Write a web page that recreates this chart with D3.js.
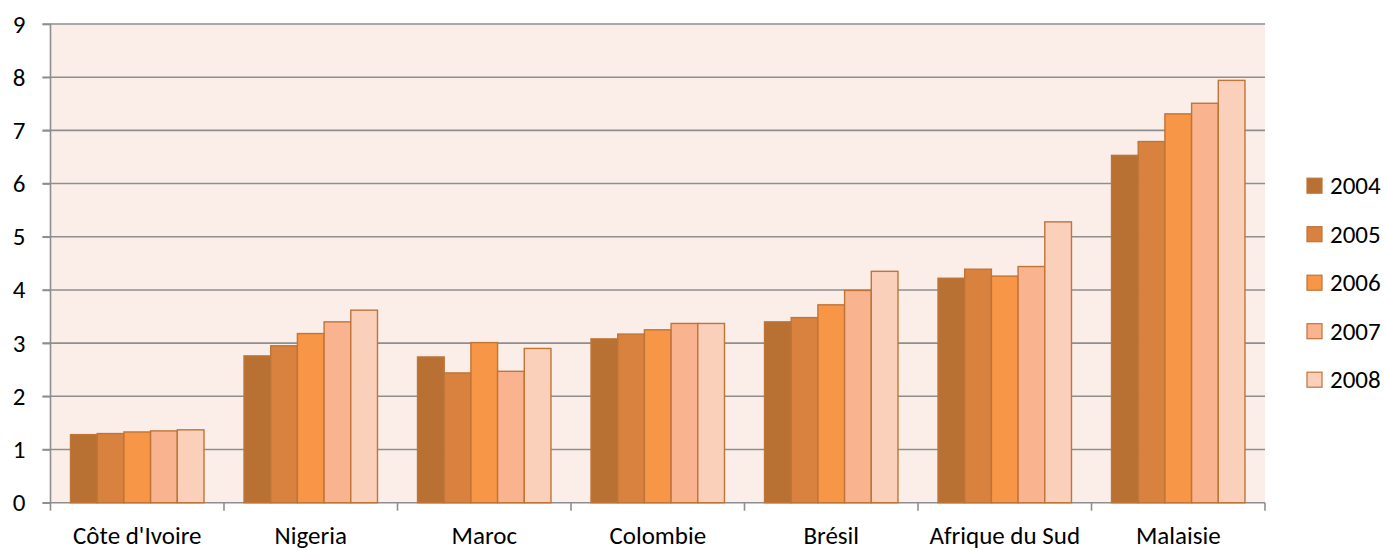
<!DOCTYPE html>
<html><head><meta charset="utf-8">
<script src="https://cdn.jsdelivr.net/npm/d3@7"></script>
<style>body{margin:0;background:#fff;}svg{display:block;font-family:Carlito,"Liberation Sans","DejaVu Sans",sans-serif;}</style>
</head><body><svg id="c" width="1385" height="550"></svg>
<script>
const categories = ["Côte d'Ivoire","Nigeria","Maroc","Colombie","Brésil","Afrique du Sud","Malaisie"];
const years = ["2004","2005","2006","2007","2008"];
const v2004 = [1.28,2.76,2.74,3.08,3.40,4.22,6.53];
const v2005 = [1.30,2.95,2.44,3.17,3.48,4.39,6.79];
const v2006 = [1.33,3.18,3.01,3.25,3.72,4.26,7.31];
const v2007 = [1.35,3.40,2.47,3.37,3.99,4.44,7.51];
const v2008 = [1.37,3.62,2.90,3.37,4.35,5.28,7.94];
const yTicks = [0,1,2,3,4,5,6,7,8,9];
const colors = ["#B87033","#D9823F","#F79646","#F9B48F","#FBD0BA"];
const series = [v2004,v2005,v2006,v2007,v2008];
const FS = 25;

const svg = d3.select("#c");
const L=50.5, R=1265, T=24, B=502.7;
const x = d3.scaleBand().domain(categories).range([L,R]).padding(0);
const x1 = d3.scaleBand().domain(years)
  .range([x.bandwidth()*0.75/6.5, x.bandwidth()*5.75/6.5]).padding(0);
const y = d3.scaleLinear().domain([0,9]).range([B,T]);

svg.append("rect").attr("x",L).attr("y",T).attr("width",R-L).attr("height",B-T).attr("fill","#FBEEE9");

// gridlines
svg.append("g").selectAll("line").data(yTicks).join("line")
  .attr("x1",L-8).attr("x2",R).attr("y1",d=>y(d)).attr("y2",d=>y(d))
  .attr("stroke","#8E8E8E").attr("stroke-width",1.6);

// bars
const g = svg.append("g");
categories.forEach((c,ci)=>{
  years.forEach((yr,si)=>{
    const val = series[si][ci];
    g.append("rect")
      .attr("x", x(c)+x1(yr)).attr("y", y(val))
      .attr("width", x1.bandwidth()).attr("height", B-y(val))
      .attr("fill", colors[si]).attr("stroke","#BF7438").attr("stroke-width",1.4);
  });
});

// axes
const yAxis = d3.axisLeft(y).tickValues(yTicks).tickSize(8).tickPadding(17);
const ya = svg.append("g").attr("transform",`translate(${L},0)`).call(yAxis);
ya.select(".domain").attr("stroke","#8E8E8E").attr("stroke-width",1.6).attr("d",`M0,${T}V${B}`);
ya.selectAll(".tick line").attr("stroke","#8E8E8E").attr("stroke-width",1.6);
ya.selectAll("text").attr("font-size",FS).attr("fill","#000").attr("font-family","Carlito,'Liberation Sans',sans-serif");

const xAxis = d3.axisBottom(x).tickSize(0).tickPadding(24);
const xa = svg.append("g").attr("transform",`translate(0,${B})`).call(xAxis);
xa.select(".domain").remove();
xa.selectAll("text").attr("font-size",FS).attr("fill","#000").attr("font-family","Carlito,'Liberation Sans',sans-serif");
const edges = categories.map(c=>x(c)).concat([R]);
xa.append("g").selectAll("line").data(edges).join("line")
  .attr("x1",d=>d).attr("x2",d=>d).attr("y1",0).attr("y2",8)
  .attr("stroke","#8E8E8E").attr("stroke-width",1.6);

// legend
const leg = svg.append("g");
years.forEach((yr,i)=>{
  const cy = 185.7 + i*48.5;
  leg.append("rect").attr("x",1307).attr("y",cy-7.5).attr("width",15).attr("height",15)
    .attr("fill",colors[i]).attr("stroke","#BF7438").attr("stroke-width",1.2);
  leg.append("text").attr("x",1330).attr("y",cy).attr("dy","0.35em")
    .attr("font-size",FS).attr("fill","#000").text(yr);
});
</script></body></html>
